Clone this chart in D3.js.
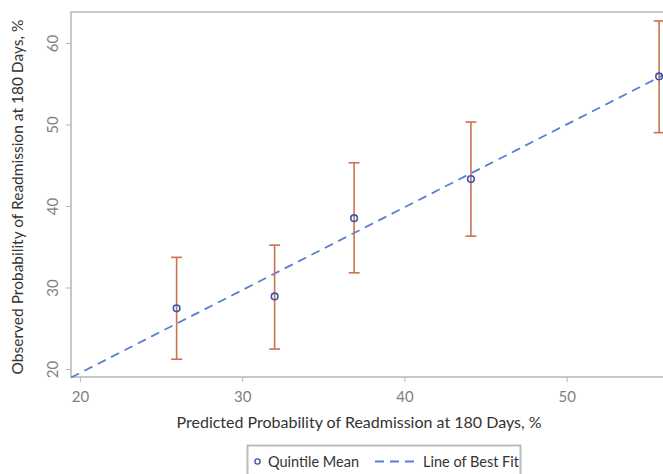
<!DOCTYPE html>
<meta charset="utf-8">
<script src="https://cdn.jsdelivr.net/npm/d3@7"></script>
<style>
  body { margin: 0; background: #fff; }
  text { font-family: Lato, "Open Sans", sans-serif; }
</style>
<body>
<script>

// values
var predicted = [25.96, 32.0, 36.9, 44.1, 55.7]
var observed  = [27.45, 28.9, 38.5, 43.3, 55.9]
var lower     = [21.2, 22.45, 31.8, 36.3, 49.0]
var upper     = [33.7, 35.2, 45.3, 50.3, 62.7]
var fitX = [19.45, 56.0]
var fitY = [18.95, 56.1]
var xTicks = [20, 30, 40, 50]
var yTicks = [20, 30, 40, 50, 60]
var legendLabels = ["Quintile Mean", "Line of Best Fit"]

var width = 663, height = 474
var plotLeft = 71, plotRight = 664, plotTop = 12, plotBottom = 377

var x = d3.scaleLinear().domain([19.45, 56.0]).range([plotLeft, plotRight])
var y = d3.scaleLinear().domain([19.02, 63.8]).range([plotBottom, plotTop])

var svg = d3.select("body").append("svg")
    .attr("width", width)
    .attr("height", height)

var frameColor = "#b4b8b8"
var tickText = "#7f7f7f"

// frame (right edge falls outside the picture)
svg.append("path")
   .attr("d", "M" + plotRight + "," + plotTop + "H" + plotLeft + "V" + plotBottom + "H" + plotRight)
   .attr("fill", "none")
   .attr("stroke", frameColor)
   .attr("stroke-width", 1.5)

var xAxis = svg.append("g")
    .attr("transform", "translate(0," + plotBottom + ")")
    .call(d3.axisBottom(x).tickValues(xTicks).tickSize(5).tickPadding(9))
xAxis.select(".domain").remove()
xAxis.selectAll("line").attr("stroke", frameColor)
xAxis.selectAll("text").attr("fill", tickText).style("font-size", "15px").style("font-family", "Lato, sans-serif")

var yAxis = svg.append("g")
    .attr("transform", "translate(" + plotLeft + ",0)")
    .call(d3.axisLeft(y).tickValues(yTicks).tickSize(5))
yAxis.select(".domain").remove()
yAxis.selectAll("line").attr("stroke", frameColor)
yAxis.selectAll("text")
     .attr("fill", tickText)
     .attr("x", 0).attr("dy", null)
     .attr("transform", "translate(-19,0) rotate(-90)")
     .attr("text-anchor", "middle")
     .attr("dominant-baseline", "central")
     .style("font-size", "15px").style("font-family", "Lato, sans-serif")

// line of best fit
var fitLine = d3.line().x(function(d) { return x(d[0]) }).y(function(d) { return y(d[1]) })
svg.append("path")
   .attr("d", fitLine(d3.zip(fitX, fitY)))
   .attr("fill", "none")
   .attr("stroke", "#5a7fd2")
   .attr("stroke-width", 1.8)
   .attr("stroke-dasharray", "9 6")

// error bars
var errColor = "#c9734f"
var bars = svg.append("g")
predicted.forEach(function(p, i) {
  var cx = x(p)
  bars.append("line").attr("x1", cx).attr("x2", cx).attr("y1", y(lower[i])).attr("y2", y(upper[i]))
      .attr("stroke", errColor).attr("stroke-width", 1.6)
  bars.append("line").attr("x1", cx - 5.5).attr("x2", cx + 5.5).attr("y1", y(lower[i])).attr("y2", y(lower[i]))
      .attr("stroke", errColor).attr("stroke-width", 1.6)
  bars.append("line").attr("x1", cx - 5.5).attr("x2", cx + 5.5).attr("y1", y(upper[i])).attr("y2", y(upper[i]))
      .attr("stroke", errColor).attr("stroke-width", 1.6)
})

// quintile means
svg.append("g").selectAll("circle")
   .data(d3.zip(predicted, observed))
   .enter().append("circle")
   .attr("cx", function(d) { return x(d[0]) })
   .attr("cy", function(d) { return y(d[1]) })
   .attr("r", 3.3)
   .attr("fill", "none")
   .attr("stroke", "#3a56b0")
   .attr("stroke-width", 1.6)

// axis titles
svg.append("text")
   .attr("x", 359)
   .attr("y", 428)
   .attr("text-anchor", "middle")
   .attr("fill", "#333")
   .style("font-size", "16px")
   .text("Predicted Probability of Readmission at 180 Days, %")

svg.append("text")
   .attr("transform", "translate(23,197) rotate(-90)")
   .attr("text-anchor", "middle")
   .attr("fill", "#333")
   .style("font-size", "15.5px")
   .text("Observed Probability of Readmission at 180 Days, %")

// legend
var legend = svg.append("g")
legend.append("rect")
   .attr("x", 247.5).attr("y", 445.5).attr("width", 273).attr("height", 40)
   .attr("fill", "#fff").attr("stroke", "#bbbbbb").attr("stroke-width", 2)
legend.append("circle")
   .attr("cx", 257.5).attr("cy", 461.5).attr("r", 2.6)
   .attr("fill", "none").attr("stroke", "#3a56b0").attr("stroke-width", 1.4)
legend.append("text").attr("x", 268).attr("y", 466.5)
   .attr("fill", "#333").style("font-size", "14.5px").text(legendLabels[0])
legend.append("line")
   .attr("x1", 375).attr("x2", 415).attr("y1", 461.5).attr("y2", 461.5)
   .attr("stroke", "#5a7fd2").attr("stroke-width", 1.8).attr("stroke-dasharray", "9 6")
legend.append("text").attr("x", 423).attr("y", 466.5)
   .attr("fill", "#333").style("font-size", "14.5px").text(legendLabels[1])

</script>
</body>
